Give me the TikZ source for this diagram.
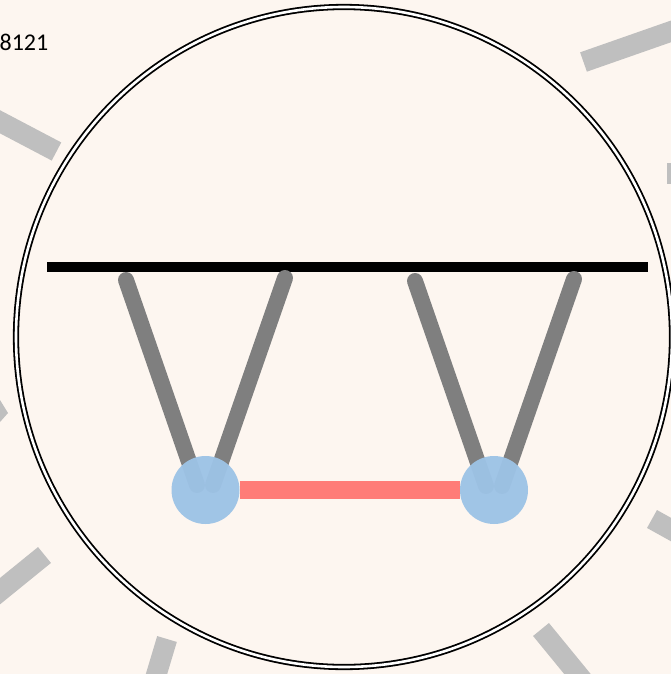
\documentclass[tikz,border=0pt]{standalone}
\usepackage{fontspec}
\newfontfamily\labelfont{Carlito}
\definecolor{bg}{HTML}{FDF6F0}
\definecolor{tickgray}{HTML}{BFBFBF}
\definecolor{leggray}{HTML}{7F7F7F}
\definecolor{ballblue}{HTML}{9DC3E6}
\definecolor{linkred}{HTML}{FF7C78}
\tikzset{
  tick/.style={draw=tickgray, line width=20.5pt, line cap=butt},
  leg/.style={draw=leggray, line width=16pt, line cap=round},
  ball/.style={circle, fill=ballblue, fill opacity=0.96, minimum size=68pt, inner sep=0pt, outer sep=0pt},
  link/.style={draw=linkred, line width=18pt, line cap=butt},
  rail/.style={draw=black, line width=9.5pt, line cap=butt},
  ring/.style={draw=black, line width=1.8pt, double=white, double distance=2.6pt}
}
\begin{document}
\begin{tikzpicture}[x=1pt,y=-1pt]
\useasboundingbox (0,0) rectangle (671,674);
\fill[bg] (0,0) rectangle (671,674);
\begin{scope}
\clip (0,0) rectangle (671,674);
% outer ticks
\coordinate (t1a) at (56.5,151.5);  \coordinate (t1b) at (-30,106);
\coordinate (t2a) at (583.5,62);    \coordinate (t2b) at (703.5,20);
\coordinate (t5a) at (44.5,555);    \coordinate (t5b) at (-35.5,620);
\coordinate (t6a) at (167,639);     \coordinate (t6b) at (152,689);
\coordinate (t7a) at (541,629.5);   \coordinate (t7b) at (593,693);
\coordinate (t8a) at (652,519);     \coordinate (t8b) at (706,549);
\draw[tick] (t1a) -- (t1b);
\draw[tick] (t2a) -- (t2b);
\draw[tick] (t5a) -- (t5b);
\draw[tick] (t6a) -- (t6b);
\draw[tick] (t7a) -- (t7b);
\draw[tick] (t8a) -- (t8b);
\fill[tickgray] (667,163) -- (672,163) -- (672,184) -- (667,184) -- cycle;
\fill[tickgray] (0,400) -- (8,413) -- (0,422) -- cycle;
% label
\node[anchor=base east, font=\labelfont\fontsize{24}{28}\selectfont, inner sep=0pt] (lbl) at (48.5,50.5) {8121};
\end{scope}
% ring
\draw[ring] (344,337) ellipse [x radius=328pt, y radius=330pt];
% rail
\coordinate (railL) at (47,267);
\coordinate (railR) at (648,267);
\draw[rail] (railL) -- (railR);
% legs
\coordinate (l1t) at (126,280); \coordinate (l1b) at (197,485);
\coordinate (l2t) at (285,278); \coordinate (l2b) at (213,485);
\coordinate (l3t) at (415,281); \coordinate (l3b) at (486,486);
\coordinate (l4t) at (574,279); \coordinate (l4b) at (502,486);
\draw[leg] (l1t) -- (l1b);
\draw[leg] (l2t) -- (l2b);
\draw[leg] (l3t) -- (l3b);
\draw[leg] (l4t) -- (l4b);
% balls and link
\node[ball] (b1) at (205.5,490) {};
\node[ball] (b2) at (494,490) {};
\draw[link] (b1) -- (b2);
\end{tikzpicture}
\end{document}
